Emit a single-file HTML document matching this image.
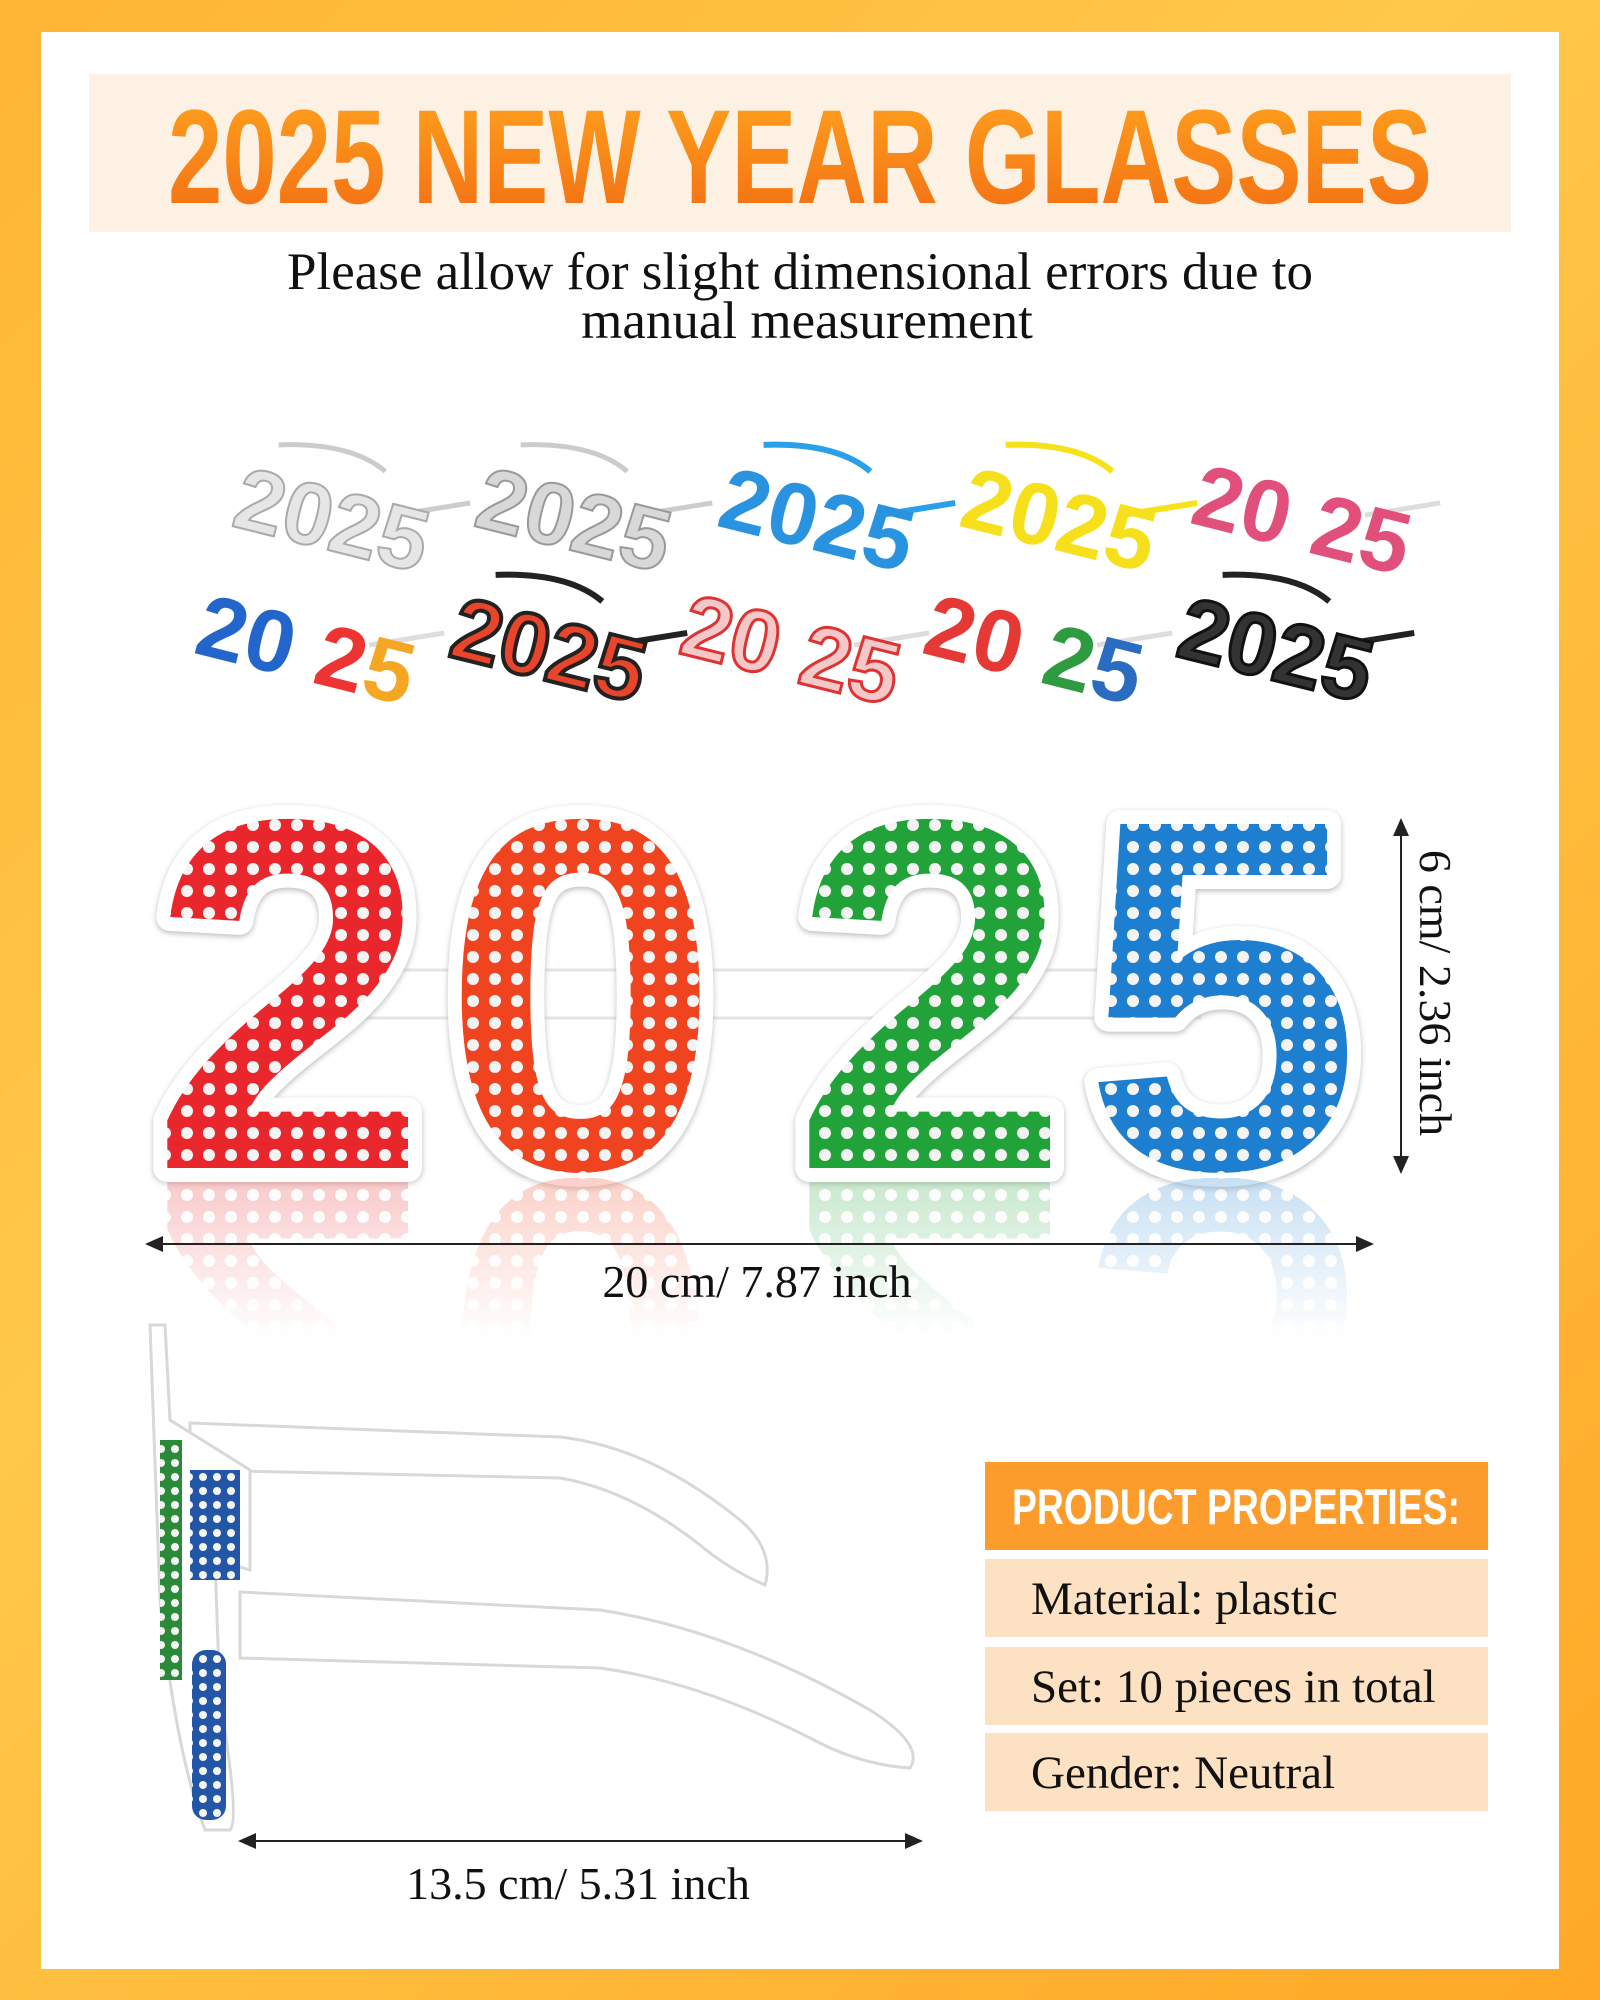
<!DOCTYPE html>
<html><head><meta charset="utf-8"><style>
html,body{margin:0;padding:0}
body{width:1600px;height:2000px;position:relative;overflow:hidden;background:linear-gradient(135deg,#ffb533,#ffc84a 40%,#ffa826);font-family:"Liberation Serif",serif}
#panel{position:absolute;left:41px;top:32px;width:1518px;height:1937px;background:#fff}
.abs{position:absolute}
</style></head><body>
<div id="panel"></div>
<div class="abs" style="left:89px;top:74px;width:1422px;height:158px;background:#fdf1e4"></div>
<svg class="abs" style="left:0;top:0" width="1600" height="2000">
<defs>
<linearGradient id="tg" x1="0" y1="0" x2="0" y2="1"><stop offset="0" stop-color="#ffa51f"/><stop offset="1" stop-color="#f26a12"/></linearGradient>
<linearGradient id="fade" x1="0" y1="0" x2="0" y2="1"><stop offset="0" stop-color="#fff" stop-opacity="0.2"/><stop offset="1" stop-color="#fff" stop-opacity="1"/></linearGradient>
<clipPath id="rc"><rect x="100" y="1178" width="1300" height="160"/></clipPath>
<pattern id="pr" width="22" height="22" patternUnits="userSpaceOnUse"><rect width="22" height="22" fill="#e8262b"/><circle cx="11" cy="11" r="6" fill="#f4f4f4"/></pattern>
<pattern id="po" width="22" height="22" patternUnits="userSpaceOnUse"><rect width="22" height="22" fill="#f0431f"/><circle cx="11" cy="11" r="6" fill="#f4f4f4"/></pattern>
<pattern id="pg" width="22" height="22" patternUnits="userSpaceOnUse"><rect width="22" height="22" fill="#22a33a"/><circle cx="11" cy="11" r="6" fill="#f4f4f4"/></pattern>
<pattern id="pb" width="22" height="22" patternUnits="userSpaceOnUse"><rect width="22" height="22" fill="#1e7fd0"/><circle cx="11" cy="11" r="6" fill="#f4f4f4"/></pattern>
<pattern id="pb2" width="14" height="14" patternUnits="userSpaceOnUse"><rect width="14" height="14" fill="#2456a8"/><circle cx="7" cy="7" r="4" fill="#f4f4f4"/></pattern>
<pattern id="pg2" width="14" height="14" patternUnits="userSpaceOnUse"><rect width="14" height="14" fill="#2a8a3a"/><circle cx="7" cy="7" r="4" fill="#f4f4f4"/></pattern>
<marker id="ah" markerWidth="10" markerHeight="10" refX="8" refY="5" orient="auto-start-reverse"><path d="M0,1 L9,5 L0,9 Z" fill="#222"/></marker>
</defs>
<text x="168" y="203" textLength="1264" lengthAdjust="spacingAndGlyphs" font-family="Liberation Sans, sans-serif" font-weight="bold" font-size="134" fill="url(#tg)">2025 NEW YEAR GLASSES</text>
<text x="800" y="289" text-anchor="middle" font-size="53" fill="#111">Please allow for slight dimensional errors due to</text>
<text x="807" y="338" text-anchor="middle" font-size="53" fill="#111">manual measurement</text>

<g font-family="Liberation Sans, sans-serif" font-weight="bold" font-size="88">
<g transform="translate(332,520) rotate(14)"><path d="M-70,-60 Q0,-80 40,-60 M60,-20 L130,-50" stroke="#ccc" stroke-width="5" fill="none"/><text x="0" y="30" text-anchor="middle" fill="#e6e6e6" stroke="#aaa" stroke-width="2">2025</text></g>
<g transform="translate(574,520) rotate(14)"><path d="M-70,-60 Q0,-80 40,-60 M60,-20 L130,-50" stroke="#ccc" stroke-width="5" fill="none"/><text x="0" y="30" text-anchor="middle" fill="#d8d8d8" stroke="#999" stroke-width="2">2025</text></g>
<g transform="translate(817,520) rotate(14)"><path d="M-70,-60 Q0,-80 40,-60 M60,-20 L130,-50" stroke="#2aa0e8" stroke-width="6" fill="none"/><text x="0" y="30" text-anchor="middle" fill="#2a93e0">2025</text></g>
<g transform="translate(1059,520) rotate(14)"><path d="M-70,-60 Q0,-80 40,-60 M60,-20 L130,-50" stroke="#f5e21a" stroke-width="6" fill="none"/><text x="0" y="30" text-anchor="middle" fill="#f6e01c">2025</text></g>
<g transform="translate(1302,520) rotate(14)"><path d="M60,-20 L130,-50" stroke="#ddd" stroke-width="5" fill="none"/><text x="0" y="30" text-anchor="middle" fill="#e0507a">20 25</text></g>
<g transform="translate(306,650) rotate(14)"><path d="M60,-20 L130,-50" stroke="#ddd" stroke-width="5" fill="none"/><text x="0" y="30" text-anchor="middle" fill="#2266cc">20 <tspan fill="#e33">2</tspan><tspan fill="#f5a623">5</tspan></text></g>
<g transform="translate(549,650) rotate(14)"><path d="M-70,-60 Q0,-80 40,-60 M60,-20 L130,-50" stroke="#222" stroke-width="6" fill="none"/><text x="0" y="30" text-anchor="middle" fill="#e8452a" stroke="#222" stroke-width="4">2025</text></g>
<g transform="translate(791,650) rotate(14)"><path d="M60,-20 L130,-50" stroke="#ddd" stroke-width="5" fill="none"/><text x="0" y="30" text-anchor="middle" fill="#f4c8c8" stroke="#d33" stroke-width="3">20 25</text></g>
<g transform="translate(1034,650) rotate(14)"><path d="M60,-20 L130,-50" stroke="#ddd" stroke-width="5" fill="none"/><text x="0" y="30" text-anchor="middle" fill="#e53935">20 <tspan fill="#2e9b40">2</tspan><tspan fill="#2a6cc0">5</tspan></text></g>
<g transform="translate(1276,650) rotate(14)"><path d="M-70,-60 Q0,-80 40,-60 M60,-20 L130,-50" stroke="#222" stroke-width="6" fill="none"/><text x="0" y="30" text-anchor="middle" fill="#333" stroke="#111" stroke-width="3">2025</text></g>
</g>

<g font-family="Liberation Sans, sans-serif" font-weight="bold" font-size="500" text-anchor="middle">
<rect x="300" y="970" width="900" height="48" fill="#fff" stroke="#e4e4e4" stroke-width="3"/>
<g stroke="#fff" stroke-width="28" stroke-linejoin="round" style="filter:drop-shadow(0 2px 3px #bbb)">
<text x="289" y="1168">2</text><text x="581" y="1168">0</text><text x="931" y="1168">2</text><text x="1222" y="1168">5</text>
</g>
<text x="289" y="1168" fill="url(#pr)">2</text>
<text x="581" y="1168" fill="url(#po)">0</text>
<text x="931" y="1168" fill="url(#pg)">2</text>
<text x="1222" y="1168" fill="url(#pb)">5</text>
<g clip-path="url(#rc)">
<g opacity="0.3" transform="translate(0,2350) scale(1,-1)">
<text x="289" y="1168" fill="url(#pr)">2</text><text x="581" y="1168" fill="url(#po)">0</text><text x="931" y="1168" fill="url(#pg)">2</text><text x="1222" y="1168" fill="url(#pb)">5</text>
</g>
<rect x="100" y="1178" width="1300" height="160" fill="url(#fade)"/>
</g>
</g>

<line x1="1401" y1="820" x2="1401" y2="1172" stroke="#222" stroke-width="2" marker-start="url(#ah)" marker-end="url(#ah)"/>
<text transform="translate(1420,993) rotate(90)" text-anchor="middle" font-size="46" fill="#111">6 cm/ 2.36 inch</text>
<line x1="147" y1="1244" x2="1372" y2="1244" stroke="#222" stroke-width="2" marker-start="url(#ah)" marker-end="url(#ah)"/>
<text x="757" y="1297" text-anchor="middle" font-size="46" fill="#111">20 cm/ 7.87 inch</text>

<g>
<path d="M190,1423 L560,1437 Q650,1447 740,1520 Q775,1550 765,1585 Q730,1570 700,1545 Q630,1490 560,1478 L190,1470 Z" fill="#fff" stroke="#d8d8d8" stroke-width="3"/>
<path d="M240,1592 L600,1610 Q730,1630 870,1710 Q925,1745 910,1768 Q860,1765 810,1738 Q700,1682 600,1668 L240,1658 Z" fill="#fff" stroke="#d8d8d8" stroke-width="3"/>
<path d="M150,1325 L165,1325 L170,1420 L250,1470 L250,1570 L215,1560 L220,1700 Q240,1820 230,1830 L205,1830 Q175,1750 160,1600 Z" fill="#fff" stroke="#d8d8d8" stroke-width="3"/>
<rect x="190" y="1470" width="50" height="110" fill="url(#pb2)"/>
<rect x="160" y="1440" width="22" height="240" fill="url(#pg2)"/>
<rect x="192" y="1650" width="34" height="170" rx="14" fill="url(#pb2)"/>
</g>
<line x1="240" y1="1841" x2="921" y2="1841" stroke="#222" stroke-width="2" marker-start="url(#ah)" marker-end="url(#ah)"/>
<text x="578" y="1899" text-anchor="middle" font-size="46" fill="#111">13.5 cm/ 5.31 inch</text>

<g>
<rect x="985" y="1462" width="503" height="88" fill="#fb9c2c"/>
<text x="1012" y="1524" textLength="448" lengthAdjust="spacingAndGlyphs" font-family="Liberation Sans, sans-serif" font-weight="bold" font-size="50" fill="#fff">PRODUCT PROPERTIES:</text>
<rect x="985" y="1559" width="503" height="78" fill="#fde1c3"/>
<text x="1031" y="1614" font-size="47" fill="#111">Material: plastic</text>
<rect x="985" y="1647" width="503" height="78" fill="#fde1c3"/>
<text x="1031" y="1702" font-size="47" fill="#111">Set: 10 pieces in total</text>
<rect x="985" y="1733" width="503" height="78" fill="#fde1c3"/>
<text x="1031" y="1788" font-size="47" fill="#111">Gender: Neutral</text>
</g>
</svg>
</body></html>
